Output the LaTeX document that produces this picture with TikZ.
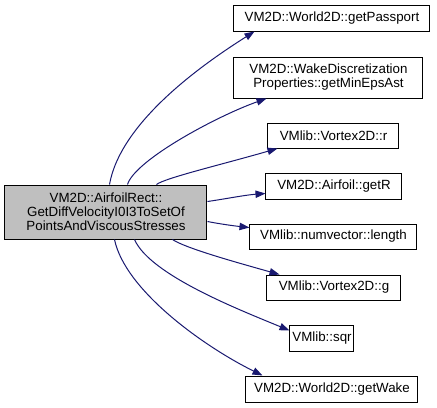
\documentclass[tikz,border=0pt]{standalone}
\usepackage{fontspec}
\setmainfont{Liberation Sans}
\usetikzlibrary{arrows.meta,calc}
\definecolor{edgeblue}{HTML}{191970}
\definecolor{mainfill}{HTML}{BFBFBF}
\begin{document}
\begin{tikzpicture}[x=0.75pt,y=-0.75pt,
  box/.style={draw=black,line width=0.75pt,fill=white,inner sep=0pt,align=center,
    font=\fontsize{10}{10.5}\selectfont},
  edge/.style={draw=edgeblue,line width=0.75pt,-{Triangle[length=7.5pt,width=5.5pt]}},
]
\useasboundingbox (0,0) rectangle (437,408);
\node[box,fill=mainfill,minimum width=151.5pt,minimum height=40.5pt] (main) at (106,212)
  {VM2D::AirfoilRect::\\GetDiffVelocityI0I3ToSetOf\\PointsAndViscousStresses};
\node[box,minimum width=147pt,minimum height=19.5pt] (pass) at (332,18) {VM2D::World2D::getPassport};
\node[box,minimum width=141.75pt,minimum height=30.75pt] (wake) at (328.5,77.5) {VM2D::WakeDiscretization\\Properties::getMinEpsAst};
\node[box,minimum width=98.25pt,minimum height=18.75pt] (r) at (333.5,135.5) {VMlib::Vortex2D::r};
\node[box,minimum width=102pt,minimum height=19.5pt] (getR) at (334,186) {VM2D::Airfoil::getR};
\node[box,minimum width=125.25pt,minimum height=18.75pt] (len) at (333.5,236.5) {VMlib::numvector::length};
\node[box,minimum width=100.5pt,minimum height=18.75pt] (g) at (334,287.5) {VMlib::Vortex2D::g};
\node[box,minimum width=48pt,minimum height=19.5pt] (sqr) at (322,338) {VMlib::sqr};
\node[box,minimum width=129pt,minimum height=19.5pt] (wget) at (332,389) {VM2D::World2D::getWake};

\draw[edge] ($(main.north west)+(105,0)$) .. controls (120,125) and (195,69) .. ($(pass.south west)+(21,0)$);
\draw[edge] ($(main.north west)+(123,0)$) .. controls (135,160) and (217,116) .. ($(wake.south west)+(33,0)$);
\draw[edge] ($(main.north west)+(152,0)$) .. controls (165,178) and (220,165) .. ($(r.south west)+(10,0)$);
\draw[edge] ($(main.north east)+(0,17)$) .. controls (225,199) and (245,195) .. ($(getR.south west)+(0,-6)$);
\draw[edge] ($(main.north east)+(0,37)$) .. controls (220,224) and (235,226) .. ($(len.north west)+(0,4)$);
\draw[edge] ($(main.south west)+(168,0)$) .. controls (185,248) and (235,262) .. ($(g.north west)+(13,0)$);
\draw[edge] ($(main.south west)+(130,0)$) .. controls (150,275) and (240,310) .. ($(sqr.north west)+(0,6)$);
\draw[edge] ($(main.south west)+(110,0)$) .. controls (125,290) and (203,346) .. ($(wget.north west)+(17,0)$);
\end{tikzpicture}
\end{document}
